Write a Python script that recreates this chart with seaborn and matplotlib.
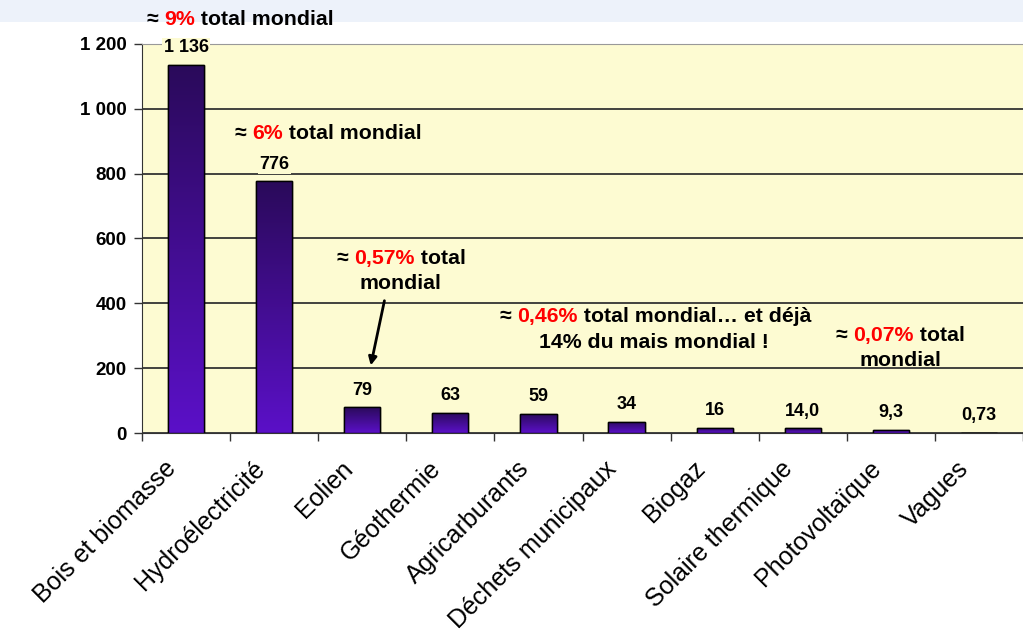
import numpy as np
import pandas as pd
import seaborn as sns
import matplotlib.pyplot as plt
from matplotlib.patches import Rectangle
from matplotlib.colors import LinearSegmentedColormap

categories = ['Bois et biomasse', 'Hydroélectricité', 'Eolien', 'Géothermie',
              'Agricarburants', 'Déchets municipaux', 'Biogaz', 'Solaire thermique',
              'Photovoltaïque', 'Vagues']
values = [1136, 776, 79, 63, 59, 34, 16, 14.0, 9.3, 0.73]
value_labels = ['1 136', '776', '79', '63', '59', '34', '16', '14,0', '9,3', '0,73']
yticks = [0, 200, 400, 600, 800, 1000, 1200]
ytick_labels = ['0', '200', '400', '600', '800', '1 000', '1 200']

df = pd.DataFrame({'source': categories, 'valeur': values})

sns.set_style('white')
plt.rcParams['font.family'] = ['Liberation Sans', 'DejaVu Sans']
plt.rcParams['text.color'] = 'black'

bg = '#FDFBD2'
fig = plt.figure(figsize=(10.23, 6.41), dpi=100)
fig.patches.append(Rectangle((0, 1 - 22 / 641), 1, 22 / 641, transform=fig.transFigure,
                             facecolor='#EDF2FA', edgecolor='none', zorder=-10))
ax = fig.add_axes([142 / 1023, 1 - 433 / 641, 1 - 142 / 1023, (433 - 44) / 641])
ax.set_facecolor(bg)

sns.barplot(data=df, x='source', y='valeur', ax=ax, width=0.41,
            color='#4A0C9A', edgecolor='black', linewidth=1, saturation=1, zorder=3)

# gradient fill inside each bar
cmap = LinearSegmentedColormap.from_list('violet', ['#5B10C8', '#2A0A5A'])
grad = np.linspace(0, 1, 256).reshape(-1, 1)
for p in list(ax.patches):
    x0, y0 = p.get_x(), p.get_y()
    w, h = p.get_width(), p.get_height()
    if h <= 0:
        continue
    im = ax.imshow(grad, cmap=cmap, aspect='auto', origin='lower',
                   extent=(x0, x0 + w, y0, y0 + h), zorder=3.5)
    im.set_clip_path(p)
    ax.add_patch(Rectangle((x0, y0), w, h, facecolor='none', edgecolor='black', lw=1, zorder=4))

ax.set_xlim(-0.5, len(categories) - 0.5)
ax.set_ylim(0, 1200)
ax.set_yticks(yticks)
ax.set_yticklabels(ytick_labels, fontsize=13.5, fontweight='bold', color='black')
ax.yaxis.grid(True, color='#333333', lw=1.3, zorder=1)
ax.set_axisbelow(True)
ax.tick_params(axis='y', direction='out', length=6, width=1, color='#333333', left=True, pad=5)

# labels sit a little left of the bar centre, as in the original slide
ax.set_xticks(np.arange(len(categories)) - 0.25)
ax.set_xticklabels(categories, rotation=45, ha='right', rotation_mode='anchor',
                   fontsize=18, color='black')
ax.set_xticks(np.arange(-0.5, len(categories), 1), minor=True)
ax.tick_params(axis='x', which='major', length=0, pad=17)
ax.tick_params(axis='x', which='minor', direction='out', length=6, width=1, color='#333333', bottom=True)
ax.set_xlabel('')
ax.set_ylabel('')

ax.spines['right'].set_visible(False)
ax.spines['top'].set_color('#999999')
ax.spines['left'].set_color('#333333')
ax.spines['bottom'].set_color('#333333')

for i, (v, lab) in enumerate(zip(values, value_labels)):
    ax.annotate(lab, xy=(i, v), xytext=(0, 17), textcoords='offset pixels',
                ha='center', va='center', fontsize=13, fontweight='bold', zorder=6,
                bbox=dict(facecolor=bg, edgecolor='none', pad=1))

FS = 15.3


def rich(pieces, x, y, fs=FS):
    # pieces: list of (text, colour); x, y: left baseline in pixels from top-left
    prev = fig.text(x / 1023, 1 - y / 641, pieces[0][0], color=pieces[0][1], fontsize=fs,
                    fontweight='bold', ha='left', va='baseline', zorder=10)
    for txt, col in pieces[1:]:
        prev = fig.add_artist(plt.Annotation(txt, xy=(1, 0), xycoords=prev, va='bottom', ha='left',
                                             color=col, fontsize=fs, fontweight='bold', zorder=10))
    return prev


K, R = 'black', '#FF0000'
rich([('≈ ', K), ('9%', R), (' total mondial', K)], 147, 25)
rich([('≈ ', K), ('6%', R), (' total mondial', K)], 235, 139)
rich([('≈ ', K), ('0,57%', R), (' total', K)], 337, 264)
fig.text(400 / 1023, 1 - 289 / 641, 'mondial', fontsize=FS, fontweight='bold', ha='center', va='baseline')
rich([('≈ ', K), ('0,46%', R), (' total mondial… et déjà', K)], 500, 322)
fig.text(654 / 1023, 1 - 348 / 641, '14% du mais mondial !', fontsize=FS, fontweight='bold',
         ha='center', va='baseline')
rich([('≈ ', K), ('0,07%', R), (' total', K)], 836, 341)
fig.text(900 / 1023, 1 - 366 / 641, 'mondial', fontsize=FS, fontweight='bold', ha='center', va='baseline')

ax.annotate('', xy=(2.09, 200), xytext=(385, 641 - 298), textcoords='figure pixels',
            arrowprops=dict(arrowstyle='-|>', color='black', lw=2, mutation_scale=12), zorder=7)

fig.savefig('out.png', dpi=100, facecolor='white')
